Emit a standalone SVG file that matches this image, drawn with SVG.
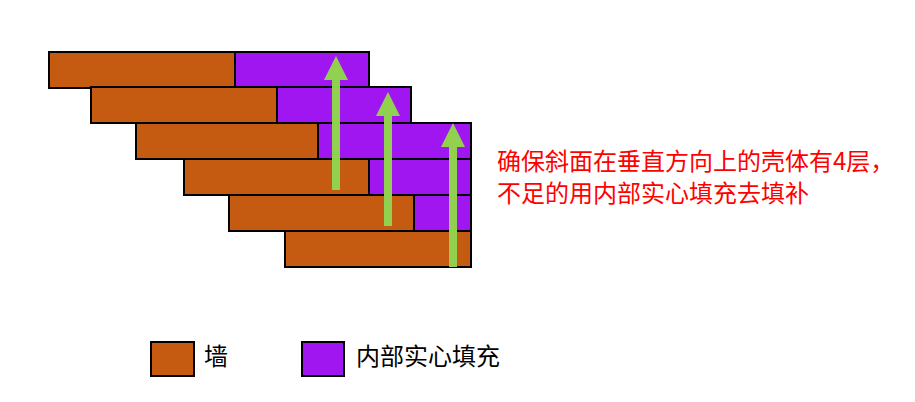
<svg xmlns="http://www.w3.org/2000/svg" width="915" height="402" viewBox="0 0 915 402">
<style>
.w{fill:#C55A11;stroke:#000;stroke-width:2}
.f{fill:#A016F0;stroke:#000;stroke-width:2}
.a{fill:#92D050}
.t{font-family:"Noto Sans CJK SC","Noto Sans",sans-serif;font-size:24px}
</style>
<rect width="915" height="402" fill="#fff"/>
<g id="row1"><rect class="w" x="49" y="52" width="186" height="36"/><rect class="f" x="235" y="52" width="134" height="36"/></g>
<g id="row2"><rect class="w" x="91" y="87" width="186" height="36"/><rect class="f" x="277" y="87" width="134" height="36"/></g>
<g id="row3"><rect class="w" x="136" y="123" width="182" height="36"/><rect class="f" x="318" y="123" width="153" height="36"/></g>
<g id="row4"><rect class="w" x="184" y="159" width="185" height="36"/><rect class="f" x="369" y="159" width="102" height="36"/></g>
<g id="row5"><rect class="w" x="229" y="195" width="185" height="36"/><rect class="f" x="414" y="195" width="57" height="36"/></g>
<g id="row6"><rect class="w" x="285" y="231" width="186" height="36"/></g>
<g id="arrows">
<path class="a" d="M332 190V80H324L336 56L348 80H340V190Z"/>
<path class="a" d="M384 226V116H376L388 92L400 116H392V226Z"/>
<path class="a" d="M449 267V147H441L453 123L465 147H457V267Z"/>
</g>
<g id="note" fill="#FF0000" class="t">
<text x="497" y="170">确保斜面在垂直方向上的壳体有4层，</text>
<text x="497" y="201.5">不足的用内部实心填充去填补</text>
</g>
<g id="legend-wall"><rect class="w" x="151" y="342" width="43" height="34"/><text class="t" x="204" y="365">墙</text></g>
<g id="legend-fill"><rect class="f" x="302" y="342" width="42" height="34"/><text class="t" x="356" y="365">内部实心填充</text></g>
</svg>
